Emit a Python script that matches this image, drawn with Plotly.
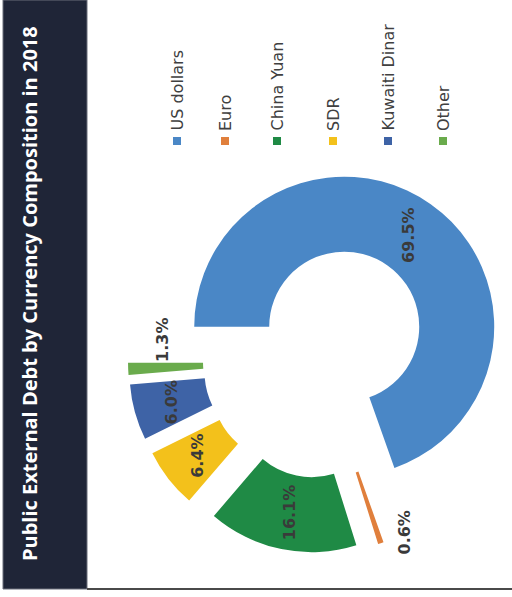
import math
import plotly.graph_objects as go

# ---- data ----
currencies = ["US dollars", "Euro", "China Yuan", "SDR", "Kuwaiti Dinar", "Other"]
shares = [69.5, 0.6, 16.1, 6.4, 6.0, 1.3]
title_text = "Public External Debt by Currency Composition in 2018"

# ---- style ----
colors = ["#4a87c6", "#e07f3c", "#1f8a45", "#f3c11b", "#3e63a6", "#6aab4c"]
W, H = 512, 597
CX, CY = 320, 361          # pie centre (px)
R = 150                    # outer radius (px)
PULL = 0.28
HOLE = 0.5
ROT = -90                  # first slice starts at 9 o'clock

def px(x):
    return x / W

def py(y):
    return 1 - y / H

half = R * (1 + PULL)
fig = go.Figure(go.Pie(
    labels=currencies, values=shares, sort=False, direction="clockwise",
    rotation=ROT, hole=HOLE, pull=[PULL] * len(shares),
    marker=dict(colors=colors, line=dict(width=0)),
    textinfo="none", showlegend=False, hoverinfo="label+percent",
    domain=dict(x=[px(CX - half), px(CX + half)], y=[py(CY + half), py(CY - half)]),
))

shapes = []
annotations = []

# dark title band
shapes.append(dict(type="rect", xref="paper", yref="paper", layer="below",
                   x0=px(3), x1=px(87), y0=py(589), y1=py(0),
                   fillcolor="#1f2537", line=dict(width=1, color="#6a6f7a")))
# bottom frame line
shapes.append(dict(type="line", xref="paper", yref="paper",
                   x0=px(87), x1=px(512), y0=py(589), y1=py(589),
                   line=dict(color="#4a4a4a", width=2)))

annotations.append(dict(text="<b>" + title_text + "</b>", textangle=-90,
                        x=px(29), y=py(294), xref="paper", yref="paper",
                        xanchor="center", yanchor="middle", showarrow=False,
                        font=dict(family="Open Sans", size=20, color="white")))

# data labels computed from the slice geometry
total = sum(shares)
nudges = [(0, 0), (36, 25), (0, 0), (0, 0), (0, 0), (-3, -27)]
cum = 0.0
for i, v in enumerate(shares):
    mid = (cum + v / 2) / total * 360
    cum += v
    a = math.radians(ROT + mid)
    dx, dy = math.sin(a), -math.cos(a)
    rr = PULL * R + R * (1 + HOLE) / 2
    lx = CX + rr * dx + nudges[i][0]
    ly = CY + rr * dy + nudges[i][1]
    annotations.append(dict(text="<b>%.1f%%</b>" % v, textangle=-90,
                            x=px(lx), y=py(ly), xref="paper", yref="paper",
                            xanchor="center", yanchor="middle", showarrow=False,
                            font=dict(family="DejaVu Sans", size=16, color="#3a3a3a")))

# rotated legend
legend_x = [177, 225, 277, 333, 388, 443]
for i, name in enumerate(currencies):
    lx = legend_x[i]
    shapes.append(dict(type="rect", xref="paper", yref="paper",
                       x0=px(lx - 4), x1=px(lx + 4), y0=py(145), y1=py(137),
                       fillcolor=colors[i], line=dict(width=0)))
    annotations.append(dict(text=name, textangle=-90,
                            x=px(lx), y=py(133), xref="paper", yref="paper",
                            xanchor="center", yanchor="bottom", showarrow=False,
                            font=dict(family="DejaVu Sans", size=16, color="#404040")))

fig.update_layout(width=W, height=H, margin=dict(l=0, r=0, t=0, b=0),
                  paper_bgcolor="white", plot_bgcolor="white",
                  shapes=shapes, annotations=annotations)
fig.write_html("out.html", config={"displayModeBar": False},
               post_script="document.body.style.margin='0';")
